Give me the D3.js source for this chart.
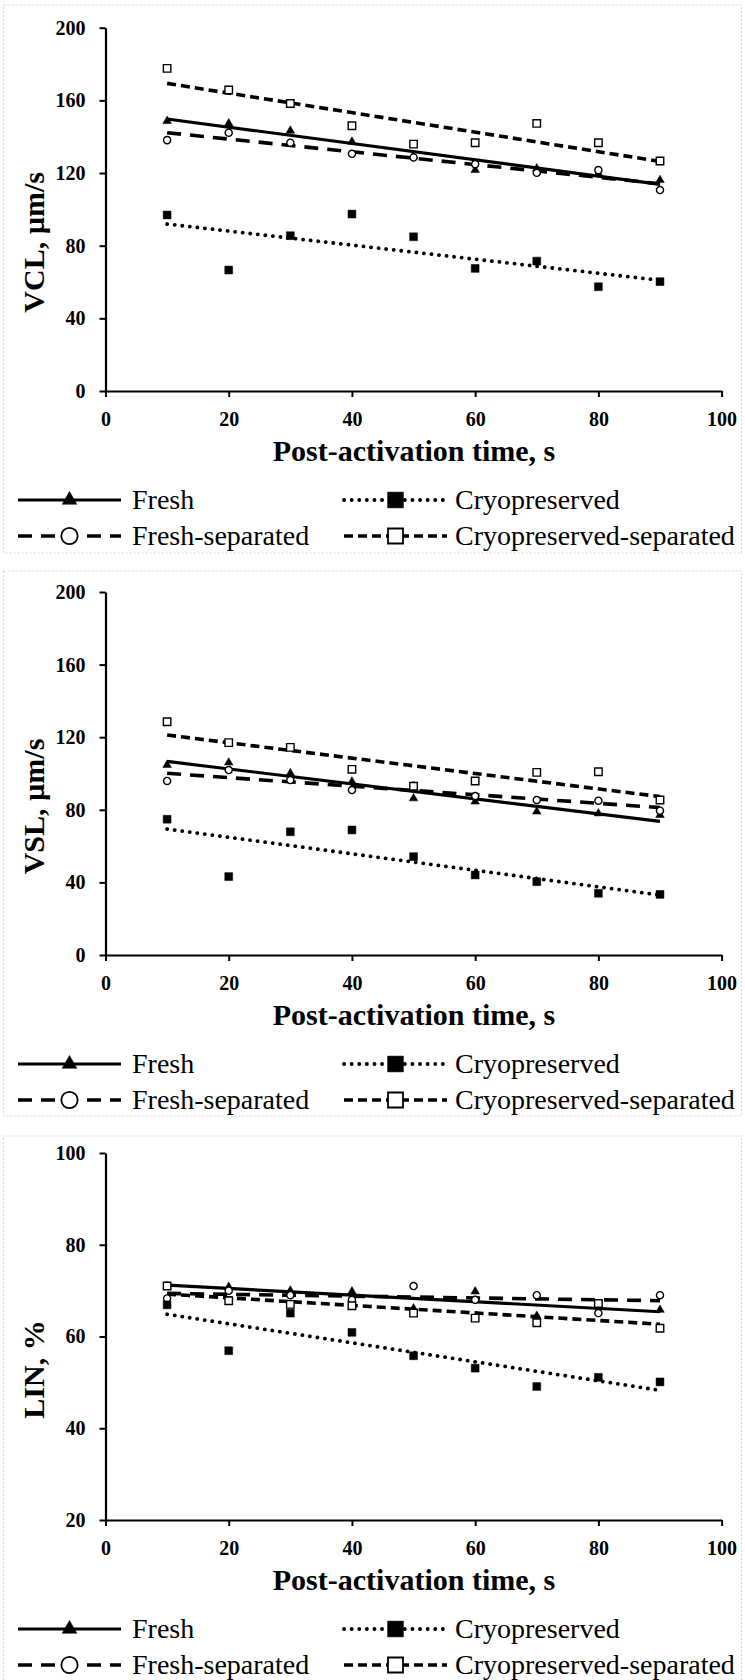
<!DOCTYPE html>
<html>
<head>
<meta charset="utf-8">
<script src="https://cdn.jsdelivr.net/npm/d3@7"></script>
<style>
  body { margin: 0; background: #fff; }
  svg text { font-family: "Liberation Serif", "Times New Roman", serif; fill: #000; }
</style>
</head>
<body>
<div id="chart"></div>
<script>
// Data
var times = [10, 20, 30, 40, 50, 60, 70, 80, 90];
var seriesNames = ["Fresh", "Fresh-separated", "Cryopreserved", "Cryopreserved-separated"];
var xTicks = [0, 20, 40, 60, 80, 100];

var vclFresh    = [148.6, 147.3, 143.3, 137.2, 129.5, 121.6, 122.5, 119.8, 116.1];
var vclFreshSep = [138.1, 142.2, 136.7, 130.6, 128.6, 124.9, 120.1, 121.6, 110.6];
var vclCryo     = [96.9, 66.6, 85.5, 97.4, 84.9, 67.5, 71.5, 57.4, 60.2];
var vclCryoSep  = [177.6, 165.7, 158.3, 146.0, 135.9, 136.7, 147.3, 136.7, 126.6];
var vclTicks = [0, 40, 80, 120, 160, 200];

var vslFresh    = [104.7, 106.0, 100.1, 95.5, 86.3, 84.5, 79.0, 78.0, 77.1];
var vslFreshSep = [95.9, 101.9, 96.4, 90.9, 93.3, 87.6, 85.4, 85.0, 79.5];
var vslCryo     = [74.8, 43.2, 67.9, 68.9, 54.2, 44.1, 40.4, 34.0, 33.4];
var vslCryoSep  = [128.5, 117.0, 114.4, 102.3, 93.0, 95.9, 100.6, 101.0, 85.4];
var vslTicks = [0, 40, 80, 120, 160, 200];

var linFresh    = [71.0, 70.8, 70.0, 69.8, 66.1, 69.8, 64.5, 66.9, 65.8];
var linFreshSep = [68.3, 70.0, 69.0, 68.0, 71.0, 68.0, 69.0, 65.1, 69.0];
var linCryo     = [66.9, 56.9, 65.1, 60.9, 55.8, 53.1, 49.1, 51.1, 50.1];
var linCryoSep  = [71.0, 67.8, 67.0, 66.7, 65.1, 64.0, 63.0, 67.2, 61.8];
var linTicks = [20, 40, 60, 80, 100];

var xTitle = "Post-activation time, s";

// layout of the three stacked panels
var panels = [
  { label: "VCL, µm/s", ticks: vclTicks, values: [vclFresh, vclFreshSep, vclCryo, vclCryoSep], top: 27.7, bottom: 391, boxTop: 5, boxBottom: 553 },
  { label: "VSL, µm/s", ticks: vslTicks, values: [vslFresh, vslFreshSep, vslCryo, vslCryoSep], top: 592, bottom: 955, boxTop: 571, boxBottom: 1116 },
  { label: "LIN, %", ticks: linTicks, values: [linFresh, linFreshSep, linCryo, linCryoSep], top: 1153, bottom: 1520, boxTop: 1136, boxBottom: 1690 }
];

var styles = [
  { dash: null,      width: 3.2, cap: "butt",  symbol: d3.symbolTriangle, size: 32, fill: "#000", lsize: 95 },
  { dash: "14,9",    width: 3.6, cap: "butt",  symbol: d3.symbolCircle,   size: 40, fill: "#fff", lsize: 210 },
  { dash: "0.1,7.5", width: 3.8, cap: "round", symbol: d3.symbolSquare,   size: 62, fill: "#000", lsize: 250 },
  { dash: "9,5",     width: 3.6, cap: "butt",  symbol: d3.symbolSquare,   size: 56, fill: "#fff", lsize: 225 }
];

var W = 745, H = 1680;
var axisLeftX = 105.5, axisRightX = 721.6;

var svg = d3.select("#chart")
  .append("svg")
  .attr("width", W)
  .attr("height", H);

var x = d3.scaleLinear().domain([0, 100]).range([axisLeftX, axisRightX]);

// least squares trend, as the spreadsheet does it
var fit = function(xs, ys) {
  var mx = d3.mean(xs), my = d3.mean(ys);
  var num = d3.sum(xs, function(v, i) { return (v - mx) * (ys[i] - my); });
  var den = d3.sum(xs, function(v) { return (v - mx) * (v - mx); });
  var b = num / den;
  return function(t) { return my + b * (t - mx); };
};

panels.forEach(function(p) {
  // faint frame around each panel
  svg.append("rect")
    .attr("x", 3.5).attr("y", p.boxTop)
    .attr("width", W - 7).attr("height", p.boxBottom - p.boxTop)
    .attr("fill", "none")
    .attr("stroke", "#d4d4d4")
    .attr("stroke-dasharray", "2,2");

  var y = d3.scaleLinear()
    .domain([d3.min(p.ticks), d3.max(p.ticks)])
    .range([p.bottom, p.top]);

  var g = svg.append("g");

  // trend lines
  p.values.forEach(function(vals, si) {
    var f = fit(times, vals);
    var st = styles[si];
    g.append("line")
      .attr("x1", x(times[0])).attr("y1", y(f(times[0])))
      .attr("x2", x(times[times.length - 1])).attr("y2", y(f(times[times.length - 1])))
      .attr("stroke", "#000")
      .attr("stroke-width", st.width)
      .attr("stroke-linecap", st.cap)
      .attr("stroke-dasharray", st.dash);
  });

  // markers
  p.values.forEach(function(vals, si) {
    var st = styles[si];
    g.selectAll(null)
      .data(vals)
      .enter()
      .append("path")
      .attr("d", d3.symbol().type(st.symbol).size(st.size))
      .attr("transform", function(d, i) { return "translate(" + x(times[i]) + "," + y(d) + ")"; })
      .attr("fill", st.fill)
      .attr("stroke", "#000")
      .attr("stroke-width", st.fill === "#fff" ? 1.4 : 0.5);
  });

  // axes
  var yAxis = d3.axisLeft(y).tickValues(p.ticks).tickSize(6).tickSizeOuter(0).tickPadding(14);
  var xAxis = d3.axisBottom(x).tickValues(xTicks).tickSize(6).tickSizeOuter(0);

  var ya = svg.append("g")
    .attr("transform", "translate(" + axisLeftX + ",0)")
    .call(yAxis);
  var xa = svg.append("g")
    .attr("transform", "translate(0," + p.bottom + ")")
    .call(xAxis);

  [ya, xa].forEach(function(a) {
    a.attr("font-family", null);
    a.select(".domain").attr("stroke-width", 2.2);
    a.selectAll(".tick line").attr("stroke-width", 2);
    a.selectAll(".tick text")
      .style("font-family", "'Liberation Serif', 'Times New Roman', serif")
      .style("font-size", "20px")
      .style("font-weight", "bold");
  });
  xa.selectAll(".tick text").attr("dy", null).attr("y", 34.5);

  // axis titles
  svg.append("text")
    .attr("x", 414)
    .attr("y", p.bottom + 70)
    .attr("text-anchor", "middle")
    .style("font-size", "30px")
    .style("font-weight", "bold")
    .text(xTitle);

  svg.append("text")
    .attr("transform", "translate(44," + ((p.top + p.bottom) / 2 + 33) + ") rotate(-90)")
    .attr("text-anchor", "middle")
    .style("font-size", "30px")
    .style("font-weight", "bold")
    .text(p.label);

  // legend: two columns, two rows
  var slots = [
    { x0: 18, x1: 121, tx: 132, row: 0 },
    { x0: 18, x1: 121, tx: 132, row: 1 },
    { x0: 344, x1: 447, tx: 455, row: 0 },
    { x0: 344, x1: 447, tx: 455, row: 1 }
  ];
  seriesNames.forEach(function(name, si) {
    var s = slots[si], st = styles[si];
    var ly = p.bottom + 109 + s.row * 36;
    svg.append("line")
      .attr("x1", s.x0).attr("x2", s.x1)
      .attr("y1", ly).attr("y2", ly)
      .attr("stroke", "#000")
      .attr("stroke-width", st.width)
      .attr("stroke-linecap", st.cap)
      .attr("stroke-dasharray", st.dash);
    svg.append("path")
      .attr("d", d3.symbol().type(st.symbol).size(st.lsize))
      .attr("transform", "translate(" + ((s.x0 + s.x1) / 2) + "," + ly + ")")
      .attr("fill", st.fill)
      .attr("stroke", "#000")
      .attr("stroke-width", st.fill === "#fff" ? 1.8 : 0.5);
    svg.append("text")
      .attr("x", s.tx)
      .attr("y", ly)
      .attr("dy", "0.33em")
      .style("font-size", "28px")
      .text(name);
  });
});
</script>
</body>
</html>
